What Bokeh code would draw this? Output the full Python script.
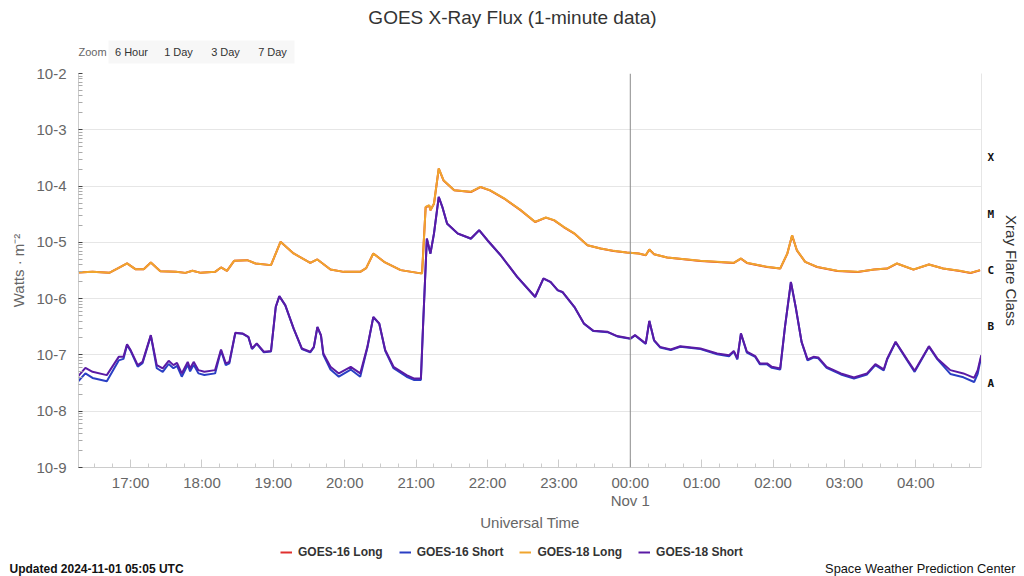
import numpy as np
import pandas as pd
from bokeh.plotting import figure
from bokeh.layouts import column, row
from bokeh.models import (FixedTicker, CustomJSTickFormatter, LogAxis, Span,
                          Legend, LegendItem, Range1d)
from bokeh.core.properties import value
from bokeh.embed import file_html
from bokeh.resources import INLINE

# ---------------- data ----------------
long_times = [
    "2024-10-31 16:16", "2024-10-31 16:28", "2024-10-31 16:42", "2024-10-31 16:50", "2024-10-31 16:57",
    "2024-10-31 17:04", "2024-10-31 17:11", "2024-10-31 17:17", "2024-10-31 17:25", "2024-10-31 17:38",
    "2024-10-31 17:46", "2024-10-31 17:52", "2024-10-31 17:59", "2024-10-31 18:11", "2024-10-31 18:16",
    "2024-10-31 18:21", "2024-10-31 18:27", "2024-10-31 18:38", "2024-10-31 18:45", "2024-10-31 18:58",
    "2024-10-31 19:06", "2024-10-31 19:17", "2024-10-31 19:31", "2024-10-31 19:37", "2024-10-31 19:48",
    "2024-10-31 19:59", "2024-10-31 20:13", "2024-10-31 20:18", "2024-10-31 20:24", "2024-10-31 20:33",
    "2024-10-31 20:47", "2024-10-31 21:04", "2024-10-31 21:05", "2024-10-31 21:08", "2024-10-31 21:11",
    "2024-10-31 21:12", "2024-10-31 21:15", "2024-10-31 21:19", "2024-10-31 21:23", "2024-10-31 21:32",
    "2024-10-31 21:46", "2024-10-31 21:54", "2024-10-31 22:02", "2024-10-31 22:14", "2024-10-31 22:28",
    "2024-10-31 22:40", "2024-10-31 22:49", "2024-10-31 22:56", "2024-10-31 23:04", "2024-10-31 23:13",
    "2024-10-31 23:24", "2024-10-31 23:35", "2024-10-31 23:46", "2024-10-31 23:57",
    "2024-11-01 00:07", "2024-11-01 00:13", "2024-11-01 00:16", "2024-11-01 00:20", "2024-11-01 00:31",
    "2024-11-01 00:59", "2024-11-01 01:27", "2024-11-01 01:33", "2024-11-01 01:38", "2024-11-01 01:55",
    "2024-11-01 02:06", "2024-11-01 02:12", "2024-11-01 02:16", "2024-11-01 02:20", "2024-11-01 02:27",
    "2024-11-01 02:37", "2024-11-01 02:54", "2024-11-01 03:11", "2024-11-01 03:25", "2024-11-01 03:36",
    "2024-11-01 03:44", "2024-11-01 03:58", "2024-11-01 04:11", "2024-11-01 04:23", "2024-11-01 04:37",
    "2024-11-01 04:46", "2024-11-01 04:54",
]
goes18_long = [
    2.90e-6, 2.99e-6, 2.87e-6, 3.52e-6, 4.22e-6, 3.34e-6, 3.34e-6, 4.40e-6, 3.08e-6, 2.99e-6,
    2.87e-6, 3.12e-6, 2.87e-6, 2.99e-6, 3.58e-6, 3.12e-6, 4.69e-6, 4.83e-6, 4.22e-6, 3.94e-6,
    1.02e-5, 6.35e-6, 4.33e-6, 4.97e-6, 3.30e-6, 2.99e-6, 2.99e-6, 3.48e-6, 6.35e-6, 4.51e-6,
    3.21e-6, 2.81e-6, 2.81e-6, 4.28e-5, 4.58e-5, 3.73e-5, 4.91e-5, 2.06e-4, 1.27e-4, 8.45e-5,
    7.89e-5, 9.68e-5, 8.45e-5, 6.03e-5, 3.73e-5, 2.31e-5, 2.77e-5, 2.48e-5, 1.88e-5, 1.44e-5,
    8.91e-6, 7.80e-6, 7.06e-6, 6.62e-6,
    6.35e-6, 5.93e-6, 7.48e-6, 6.17e-6, 5.40e-6, 4.69e-6, 4.33e-6, 5.18e-6, 4.33e-6, 3.67e-6,
    3.44e-6, 6.35e-6, 1.34e-5, 7.26e-6, 4.51e-6, 3.67e-6, 3.12e-6, 2.99e-6, 3.30e-6, 3.44e-6,
    4.22e-6, 3.30e-6, 4.05e-6, 3.44e-6, 3.12e-6, 2.87e-6, 3.21e-6,
]
goes16_long = [
    2.90e-6, 2.99e-6, 2.87e-6, 3.52e-6, 4.22e-6, 3.34e-6, 3.34e-6, 4.40e-6, 3.08e-6, 2.99e-6,
    2.87e-6, 3.12e-6, 2.87e-6, 2.99e-6, 3.58e-6, 3.12e-6, 4.69e-6, 4.83e-6, 4.22e-6, 3.94e-6,
    1.02e-5, 6.35e-6, 4.33e-6, 4.97e-6, 3.30e-6, 2.99e-6, 2.99e-6, 3.48e-6, 6.35e-6, 4.51e-6,
    3.21e-6, 2.81e-6, 2.95e-6, 4.20e-5, 4.50e-5, 3.70e-5, 4.85e-5, 2.04e-4, 1.26e-4, 8.40e-5,
    7.85e-5, 9.60e-5, 8.40e-5, 6.00e-5, 3.70e-5, 2.30e-5, 2.75e-5, 2.46e-5, 1.87e-5, 1.43e-5,
    8.85e-6, 7.75e-6, 7.02e-6, 6.58e-6,
    6.32e-6, 5.90e-6, 7.44e-6, 6.14e-6, 5.38e-6, 4.67e-6, 4.31e-6, 5.15e-6, 4.31e-6, 3.65e-6,
    3.42e-6, 6.32e-6, 1.33e-5, 7.22e-6, 4.49e-6, 3.65e-6, 3.10e-6, 2.97e-6, 3.28e-6, 3.42e-6,
    4.20e-6, 3.28e-6, 4.03e-6, 3.42e-6, 3.10e-6, 2.85e-6, 3.19e-6,
]

short_times = [
    "2024-10-31 16:16", "2024-10-31 16:22", "2024-10-31 16:28", "2024-10-31 16:40", "2024-10-31 16:50",
    "2024-10-31 16:54", "2024-10-31 16:57", "2024-10-31 17:00", "2024-10-31 17:06", "2024-10-31 17:10",
    "2024-10-31 17:17", "2024-10-31 17:22", "2024-10-31 17:27", "2024-10-31 17:32", "2024-10-31 17:36",
    "2024-10-31 17:39", "2024-10-31 17:43", "2024-10-31 17:48", "2024-10-31 17:50", "2024-10-31 17:53",
    "2024-10-31 17:57", "2024-10-31 18:02", "2024-10-31 18:11", "2024-10-31 18:16", "2024-10-31 18:20",
    "2024-10-31 18:23", "2024-10-31 18:28", "2024-10-31 18:34", "2024-10-31 18:39", "2024-10-31 18:42",
    "2024-10-31 18:46", "2024-10-31 18:52", "2024-10-31 18:58", "2024-10-31 19:02", "2024-10-31 19:05",
    "2024-10-31 19:10", "2024-10-31 19:17", "2024-10-31 19:24", "2024-10-31 19:31", "2024-10-31 19:34",
    "2024-10-31 19:37", "2024-10-31 19:40", "2024-10-31 19:42", "2024-10-31 19:48", "2024-10-31 19:55",
    "2024-10-31 20:05", "2024-10-31 20:13", "2024-10-31 20:19", "2024-10-31 20:24", "2024-10-31 20:29",
    "2024-10-31 20:34", "2024-10-31 20:41", "2024-10-31 20:52", "2024-10-31 20:58", "2024-10-31 21:04",
    "2024-10-31 21:06", "2024-10-31 21:09", "2024-10-31 21:12", "2024-10-31 21:15", "2024-10-31 21:19",
    "2024-10-31 21:22", "2024-10-31 21:26", "2024-10-31 21:35", "2024-10-31 21:46", "2024-10-31 21:53",
    "2024-10-31 22:00", "2024-10-31 22:11", "2024-10-31 22:25", "2024-10-31 22:40", "2024-10-31 22:47",
    "2024-10-31 22:53", "2024-10-31 22:59", "2024-10-31 23:03", "2024-10-31 23:13", "2024-10-31 23:21",
    "2024-10-31 23:29", "2024-10-31 23:41", "2024-10-31 23:49",
    "2024-11-01 00:00", "2024-11-01 00:04", "2024-11-01 00:13", "2024-11-01 00:16", "2024-11-01 00:20",
    "2024-11-01 00:25", "2024-11-01 00:34", "2024-11-01 00:42", "2024-11-01 00:59", "2024-11-01 01:13",
    "2024-11-01 01:23", "2024-11-01 01:27", "2024-11-01 01:30", "2024-11-01 01:33", "2024-11-01 01:38",
    "2024-11-01 01:45", "2024-11-01 01:49", "2024-11-01 01:55", "2024-11-01 01:59", "2024-11-01 02:06",
    "2024-11-01 02:10", "2024-11-01 02:15", "2024-11-01 02:19", "2024-11-01 02:24", "2024-11-01 02:29",
    "2024-11-01 02:34", "2024-11-01 02:38", "2024-11-01 02:45", "2024-11-01 02:57", "2024-11-01 03:08",
    "2024-11-01 03:19", "2024-11-01 03:26", "2024-11-01 03:33", "2024-11-01 03:36", "2024-11-01 03:43",
    "2024-11-01 03:53", "2024-11-01 03:59", "2024-11-01 04:11", "2024-11-01 04:18", "2024-11-01 04:29",
    "2024-11-01 04:40", "2024-11-01 04:49", "2024-11-01 04:52", "2024-11-01 04:55",
]
goes18_short = [
    4.20e-8, 5.90e-8, 5.01e-8, 4.38e-8, 9.25e-8, 9.25e-8, 1.54e-7, 1.22e-7, 6.59e-8, 7.53e-8,
    2.25e-7, 6.59e-8, 5.75e-8, 7.85e-8, 6.59e-8, 7.24e-8, 4.69e-8, 7.53e-8, 5.75e-8, 7.53e-8,
    5.37e-8, 5.01e-8, 5.37e-8, 1.25e-7, 7.06e-8, 7.53e-8, 2.47e-7, 2.41e-7, 2.10e-7, 1.30e-7,
    1.60e-7, 1.14e-7, 1.18e-7, 7.15e-7, 1.11e-6, 7.67e-7, 2.96e-7, 1.30e-7, 1.14e-7, 1.39e-7,
    3.16e-7, 2.25e-7, 1.06e-7, 6.15e-8, 4.69e-8, 6.15e-8, 4.69e-8, 1.39e-7, 4.75e-7, 3.63e-7,
    1.22e-7, 6.15e-8, 4.38e-8, 3.83e-8, 3.83e-8, 4.14e-7, 1.17e-5, 6.35e-6, 1.44e-5, 6.43e-5,
    4.28e-5, 2.17e-5, 1.44e-5, 1.17e-5, 1.65e-5, 1.09e-5, 5.93e-6, 2.44e-6, 1.08e-6, 2.29e-6,
    1.99e-6, 1.42e-6, 1.32e-6, 7.15e-7, 3.63e-7, 2.68e-7, 2.57e-7, 2.16e-7,
    1.96e-7, 2.25e-7, 1.60e-7, 4.04e-7, 1.83e-7, 1.39e-7, 1.25e-7, 1.43e-7, 1.30e-7, 1.06e-7,
    9.91e-8, 1.18e-7, 8.67e-8, 2.41e-7, 1.14e-7, 9.52e-8, 7.06e-8, 7.06e-8, 6.15e-8, 5.75e-8,
    3.16e-7, 1.99e-6, 7.15e-7, 1.71e-7, 8.32e-8, 9.25e-8, 9.03e-8, 6.15e-8, 4.69e-8, 3.98e-8,
    4.69e-8, 6.87e-8, 5.52e-8, 8.67e-8, 1.71e-7, 8.09e-8, 5.22e-8, 1.43e-7, 8.67e-8, 5.37e-8,
    4.69e-8, 3.92e-8, 5.37e-8, 9.91e-8,
]
goes16_short = [
    3.40e-8, 4.70e-8, 3.90e-8, 3.40e-8, 8.00e-8, 8.50e-8, 1.50e-7, 1.18e-7, 6.20e-8, 7.10e-8,
    2.20e-7, 5.80e-8, 5.00e-8, 6.90e-8, 5.80e-8, 6.40e-8, 4.10e-8, 6.70e-8, 5.10e-8, 6.70e-8,
    4.70e-8, 4.40e-8, 4.70e-8, 1.20e-7, 6.60e-8, 7.10e-8, 2.44e-7, 2.38e-7, 2.07e-7, 1.27e-7,
    1.57e-7, 1.11e-7, 1.15e-7, 7.10e-7, 1.10e-6, 7.60e-7, 2.93e-7, 1.27e-7, 1.11e-7, 1.36e-7,
    3.12e-7, 2.20e-7, 1.00e-7, 5.50e-8, 4.10e-8, 5.50e-8, 4.10e-8, 1.34e-7, 4.70e-7, 3.58e-7,
    1.18e-7, 5.80e-8, 4.10e-8, 3.60e-8, 3.60e-8, 4.05e-7, 1.16e-5, 6.30e-6, 1.43e-5, 6.40e-5,
    4.25e-5, 2.15e-5, 1.43e-5, 1.16e-5, 1.64e-5, 1.08e-5, 5.90e-6, 2.42e-6, 1.07e-6, 2.27e-6,
    1.97e-6, 1.40e-6, 1.30e-6, 7.10e-7, 3.60e-7, 2.65e-7, 2.54e-7, 2.13e-7,
    1.93e-7, 2.22e-7, 1.57e-7, 4.00e-7, 1.80e-7, 1.36e-7, 1.22e-7, 1.40e-7, 1.27e-7, 1.03e-7,
    9.50e-8, 1.15e-7, 8.30e-8, 2.38e-7, 1.10e-7, 9.20e-8, 6.80e-8, 6.80e-8, 5.90e-8, 5.50e-8,
    3.12e-7, 1.97e-6, 7.10e-7, 1.68e-7, 8.00e-8, 9.00e-8, 8.70e-8, 5.90e-8, 4.50e-8, 3.80e-8,
    4.50e-8, 6.60e-8, 5.30e-8, 8.40e-8, 1.68e-7, 7.80e-8, 5.00e-8, 1.40e-7, 8.40e-8, 4.60e-8,
    4.00e-8, 3.30e-8, 4.60e-8, 9.50e-8,
]

series_names = ["GOES-16 Long", "GOES-16 Short", "GOES-18 Long", "GOES-18 Short"]
series_colors = ["#e0302f", "#2a3fc4", "#f0a52e", "#5a1aa5"]

tick_hours = [17, 18, 19, 20, 21, 22, 23, 24, 25, 26, 27, 28]
tick_labels = ["17:00", "18:00", "19:00", "20:00", "21:00", "22:00", "23:00",
               "00:00\nNov 1", "01:00", "02:00", "03:00", "04:00"]
flare_classes = ["X", "M", "C", "B", "A"]
flare_class_levels = [10 ** -3.5, 10 ** -4.5, 10 ** -5.5, 10 ** -6.5, 10 ** -7.5]
decades = [1e-9, 1e-8, 1e-7, 1e-6, 1e-5, 1e-4, 1e-3, 1e-2]

title_text = "GOES X-Ray Flux (1-minute data)"
updated_text = "Updated 2024-11-01 05:05 UTC"
credit_text = "Space Weather Prediction Center"
zoom_label = "Zoom"
zoom_buttons = ["6 Hour", "1 Day", "3 Day", "7 Day"]

# ---------------- helpers ----------------
t0 = pd.Timestamp("2024-10-31 00:00")


def to_hours(ts):
    return ((pd.to_datetime(ts) - t0) / pd.Timedelta(hours=1)).to_numpy()


lx = to_hours(long_times)
sx = to_hours(short_times)

FONT = "Liberation Sans"
W = 1024
HEADER_H, MAIN_H, FOOTER_H = 66, 468, 42


def no_align(f):
    try:
        f.frame_align = False
    except Exception:
        pass


def blank_fig(h):
    f = figure(width=W, height=h, x_range=Range1d(0, W), y_range=Range1d(h, 0),
               output_backend="svg", toolbar_location=None, min_border=0,
               x_axis_location=None, y_axis_location=None)
    f.outline_line_color = None
    f.grid.grid_line_color = None
    f.background_fill_color = "white"
    f.border_fill_color = "white"
    no_align(f)
    return f


# ---------------- header: title + zoom buttons ----------------
hdr = blank_fig(HEADER_H)
hdr.text(x=[W / 2], y=[17], text=[title_text], text_align="center", text_baseline="middle",
         text_font=value(FONT), text_font_size="19px", text_color="#333333")
hdr.quad(left=[108], right=[294], top=[40], bottom=[63], fill_color="#f7f7f7", line_color=None)
hdr.text(x=[78], y=[51], text=[zoom_label], text_align="left", text_baseline="middle",
         text_font=value(FONT), text_font_size="11px", text_color="#666666")
hdr.text(x=[131, 178, 225, 272], y=[51] * 4, text=zoom_buttons, text_align="center",
         text_baseline="middle", text_font=value(FONT), text_font_size="11px", text_color="#333333")

# ---------------- main chart ----------------
p = figure(width=W, height=MAIN_H,
           x_range=Range1d(16.27, 28.92), y_range=Range1d(1e-9, 1e-2),
           y_axis_type="log", output_backend="svg", toolbar_location=None,
           min_border_left=78, min_border_right=43, min_border_top=7,
           min_border_bottom=MAIN_H - 7 - 394)
p.outline_line_color = None
p.background_fill_color = "white"
p.border_fill_color = "white"
no_align(p)

p.line(lx, goes16_long, line_color=series_colors[0], line_width=2)
p.line(lx, goes18_long, line_color=series_colors[2], line_width=2)
p.line(sx, goes16_short, line_color=series_colors[1], line_width=2)
p.line(sx, goes18_short, line_color=series_colors[3], line_width=2)

p.add_layout(Span(location=24, dimension="height", line_color="#8a8a8a", line_width=1))

p.xgrid.grid_line_color = None
p.ygrid.grid_line_color = "#e6e6e6"

minor = [h / 4 for h in range(65, 117) if h % 4 != 0]
xa = p.xaxis[0]
xa.ticker = FixedTicker(ticks=tick_hours, minor_ticks=minor)
xa.major_label_overrides = {h: l for h, l in zip(tick_hours, tick_labels)}
xa.axis_label = "Universal Time"
xa.axis_label_text_font = FONT
xa.axis_label_text_font_size = "15px"
xa.axis_label_text_font_style = "normal"
xa.axis_label_text_color = "#666666"
xa.axis_label_standoff = 2
xa.major_label_text_font = FONT
xa.major_label_text_font_size = "15px"
xa.major_label_text_color = "#666666"
xa.major_label_text_line_height = 1.1
xa.major_label_standoff = 6
xa.axis_line_color = "#cccccc"
xa.major_tick_line_color = "#cccccc"
xa.minor_tick_line_color = "#cccccc"
xa.major_tick_in = 8
xa.major_tick_out = 0
xa.minor_tick_in = 4
xa.minor_tick_out = 0

ya = p.yaxis[0]
ya.ticker = FixedTicker(ticks=decades,
                        minor_ticks=[k * 10.0 ** e for e in range(-9, -2) for k in range(2, 10)])
ya.formatter = CustomJSTickFormatter(code='return "10" + Math.round(Math.log10(tick));')
ya.axis_label = "Watts · m⁻²"
ya.axis_label_text_font = FONT
ya.axis_label_text_font_size = "15px"
ya.axis_label_text_font_style = "normal"
ya.axis_label_text_color = "#666666"
ya.axis_label_standoff = 6
ya.major_label_text_font = FONT
ya.major_label_text_font_size = "15px"
ya.major_label_text_color = "#666666"
ya.major_label_standoff = 12
ya.axis_line_color = "#cccccc"
ya.major_tick_line_color = "#444444"
ya.minor_tick_line_color = "#aaaaaa"
ya.major_tick_in = 4
ya.major_tick_out = 0
ya.minor_tick_in = 4
ya.minor_tick_out = 0

ra = LogAxis(ticker=FixedTicker(ticks=flare_class_levels, minor_ticks=[]),
             formatter=CustomJSTickFormatter(
                 args=dict(names=flare_classes),
                 code="return names[Math.round(-Math.log10(tick) - 3.5)];"),
             axis_label="Xray Flare Class")
ra.axis_label_text_font = FONT
ra.axis_label_text_font_size = "15px"
ra.axis_label_text_font_style = "normal"
ra.axis_label_text_color = "#333333"
ra.axis_label_standoff = 6
ra.major_label_text_font = "DejaVu Sans Mono"
ra.major_label_text_font_size = "11px"
ra.major_label_text_font_style = "bold"
ra.major_label_text_color = "#111111"
ra.major_label_standoff = 6
ra.axis_line_color = "#e6e6e6"
ra.major_tick_line_color = None
ra.minor_tick_line_color = None
ra.major_tick_in = 0
ra.major_tick_out = 0
ra.minor_tick_in = 0
ra.minor_tick_out = 0
p.add_layout(ra, "right")

# ---------------- footer: legend + credits ----------------
ftr = blank_fig(FOOTER_H)
keys = [ftr.line(x=[np.nan], y=[np.nan], line_color=c, line_width=2) for c in series_colors]
legend = Legend(items=[LegendItem(label=n, renderers=[r]) for n, r in zip(series_names, keys)],
                orientation="horizontal", location=(280, 16),
                label_text_font=FONT, label_text_font_size="12px", label_text_font_style="bold",
                label_text_color="#333333", glyph_width=12, glyph_height=16, label_height=16,
                label_standoff=6, spacing=16, padding=0, margin=0,
                border_line_color=None, background_fill_alpha=0)
ftr.add_layout(legend)
ftr.text(x=[9], y=[34], text=[updated_text], text_align="left", text_baseline="middle",
         text_font=value(FONT), text_font_size="12px", text_font_style="bold", text_color="#111111")
ftr.text(x=[1015], y=[34], text=[credit_text], text_align="right", text_baseline="middle",
         text_font=value(FONT), text_font_size="12.8px", text_color="#111111")

layout = column(row(hdr), p, row(ftr), spacing=0)
open("out.html", "w").write(file_html(layout, INLINE))
